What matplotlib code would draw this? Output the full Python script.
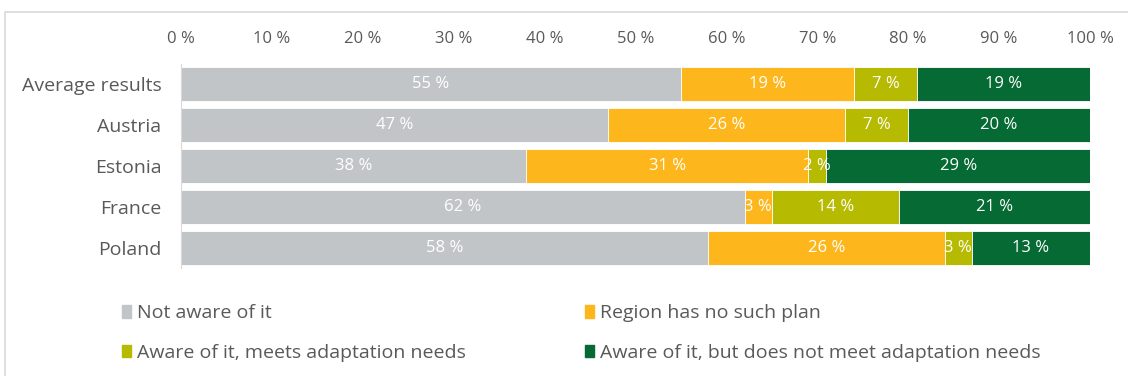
import matplotlib.pyplot as plt
from matplotlib.patches import Patch, Rectangle

plt.rcParams['font.family'] = ['Open Sans', 'DejaVu Sans']

countries = ["Average results", "Austria", "Estonia", "France", "Poland"]
series_names = [
    "Not aware of it",
    "Region has no such plan",
    "Aware of it, meets adaptation needs",
    "Aware of it, but does not meet adaptation needs",
]
not_aware = [55, 47, 38, 62, 58]
no_plan = [19, 26, 31, 3, 26]
meets = [7, 7, 2, 14, 3]
not_meets = [19, 20, 29, 21, 13]
colors = ["#C1C5C7", "#FDB71C", "#B6BA00", "#066A34"]
ticks = list(range(0, 101, 10))

fig = plt.figure(figsize=(11.28, 3.76), dpi=100)
ax = fig.add_axes([181 / 1128, 1 - 268 / 376, 909 / 1128, 204 / 376])

# stacked segments, each labelled with its share
y = list(range(len(countries)))
left = [0] * len(countries)
for name, vals, col in zip(series_names, [not_aware, no_plan, meets, not_meets], colors):
    ax.barh(y, vals, left=left, height=0.83, color=col, label=name,
            edgecolor="white", linewidth=0.6)
    for yi, l, v in zip(y, left, vals):
        ax.text(l + v / 2, yi, f"{v} %", ha="center", va="center",
                color="white", fontsize=12)
    left = [a + b for a, b in zip(left, vals)]

ax.set_xlim(0, 100)
ax.set_ylim(len(countries) - 0.5, -0.5)
ax.set_yticks(y)
ax.set_yticklabels(countries, fontsize=14, color="#595959")
ax.set_xticks(ticks)
ax.set_xticklabels([f"{t} %" for t in ticks], fontsize=12, color="#595959")
ax.xaxis.tick_top()
ax.tick_params(length=0, pad=12, axis="x")
ax.tick_params(length=0, pad=14, axis="y")
for s in ["top", "right", "bottom"]:
    ax.spines[s].set_visible(False)
ax.spines["left"].set_color("#D9D9D9")

# legend filled column-wise, so reorder to read row by row
handles = [Patch(color=c) for c in colors]
order = [0, 2, 1, 3]
fig.legend([handles[i] for i in order], [series_names[i] for i in order],
           ncol=2, loc="upper left", bbox_to_anchor=(104 / 1128, 1 - 287 / 376),
           frameon=False, fontsize=14, labelcolor="#595959",
           handlelength=0.5, handleheight=0.6, handletextpad=0.3,
           columnspacing=6.1, labelspacing=1.1)

# thin frame round the chart area
fig.patches.append(Rectangle((5 / 1128, -0.1), 1.2, 1 - 12 / 376 + 0.1,
                             transform=fig.transFigure, fill=False,
                             edgecolor="#D9D9D9", linewidth=1.2))

fig.savefig("out.png", dpi=100)
